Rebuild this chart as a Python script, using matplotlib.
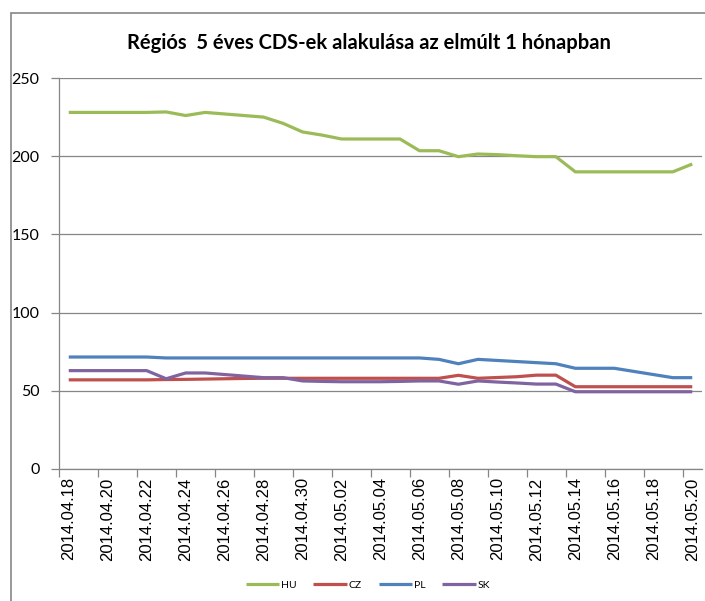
import matplotlib
matplotlib.use('Agg')
import matplotlib.pyplot as plt
from matplotlib.patches import Rectangle

# daily observations, 2014.04.18 .. 2014.05.20
dates = ['2014.04.18', '2014.04.19', '2014.04.20', '2014.04.21', '2014.04.22',
         '2014.04.23', '2014.04.24', '2014.04.25', '2014.04.26', '2014.04.27',
         '2014.04.28', '2014.04.29', '2014.04.30', '2014.05.01', '2014.05.02',
         '2014.05.03', '2014.05.04', '2014.05.05', '2014.05.06', '2014.05.07',
         '2014.05.08', '2014.05.09', '2014.05.10', '2014.05.11', '2014.05.12',
         '2014.05.13', '2014.05.14', '2014.05.15', '2014.05.16', '2014.05.17',
         '2014.05.18', '2014.05.19', '2014.05.20']

hu = [228, 228, 228, 228, 228, 228.3, 226, 228, 227, 226, 225, 221, 215.5,
      213.5, 211, 211, 211, 211, 203.5, 203.5, 199.7, 201.4, 201, 200.3, 199.7,
      199.7, 190, 190, 190, 190, 190, 190, 195]
cz = [57, 57, 57, 57, 57, 57.2, 57.3, 57.5, 57.7, 57.9, 58, 58, 58, 58, 58,
      58, 58, 58, 58, 58, 59.9, 58, 58.5, 59, 60, 60, 52.6, 52.6, 52.6, 52.6,
      52.6, 52.6, 52.6]
pl = [71.6, 71.6, 71.6, 71.6, 71.6, 71, 71, 71, 71, 71, 71, 71, 71, 71, 71,
      71, 71, 71, 71, 70.1, 67.3, 70.1, 69.4, 68.7, 68, 67.3, 64.4, 64.4, 64.4,
      62.4, 60.4, 58.4, 58.4]
sk = [62.9, 62.9, 62.9, 62.9, 62.9, 57.7, 61.4, 61.4, 60.4, 59.4, 58.4, 58.4,
      56.3, 56, 55.8, 55.8, 55.8, 56, 56.3, 56.3, 54.2, 56.3, 55.6, 55, 54.3,
      54.3, 49.4, 49.4, 49.4, 49.4, 49.4, 49.4, 49.4]

series = [('HU', hu, '#9BBB59'), ('CZ', cz, '#C0504D'),
          ('PL', pl, '#4F81BD'), ('SK', sk, '#8064A2')]

title = 'Régiós  5 éves CDS-ek alakulása az elmúlt 1 hónapban'
font = 'Lato'
grid_col = '#868686'

fig = plt.figure(figsize=(7.05, 6.01), dpi=100)
ax = fig.add_axes([59 / 705, 132 / 601, 643 / 705, 391 / 601])

x = list(range(len(dates)))
for name, vals, col in series:
    ax.plot(x, vals, color=col, linewidth=2.3, label=name, solid_capstyle='butt')

ax.set_xlim(-0.5, len(dates) - 0.5)
ax.set_ylim(0, 250)
ax.set_yticks(range(0, 251, 50))
ax.grid(axis='y', color=grid_col, linewidth=0.9)
ax.set_axisbelow(True)

# labels on every second day, tick marks between days
ax.set_xticks(x[::2])
ax.set_xticklabels(dates[::2], rotation=90, fontsize=12,
                   family='Liberation Sans')
ax.set_xticks([i - 0.5 for i in x[::2]], minor=True)
ax.tick_params(axis='x', which='major', length=0, pad=6)
ax.tick_params(axis='x', which='minor', length=6, color=grid_col, width=0.9)
ax.tick_params(axis='y', length=6, color=grid_col, width=0.9, pad=8,
               labelsize=11.5)
for lab in ax.get_yticklabels():
    lab.set_family(font)

for side in ['top', 'right']:
    ax.spines[side].set_visible(False)
for side in ['left', 'bottom']:
    ax.spines[side].set_color(grid_col)
    ax.spines[side].set_linewidth(0.9)

fig.text(369 / 705, 1 - 43 / 601, title, ha='center', va='center',
         fontsize=14.5, fontweight='bold', family=font)

fig.legend(loc='center', bbox_to_anchor=(368 / 705, 16 / 601), ncol=4,
           frameon=False, prop={'family': font, 'size': 7.5},
           handlelength=3.2, handletextpad=0.2, columnspacing=1.6)

# chart area border (open at right and bottom, like the cropped original)
fig.patches.append(Rectangle((11 / 705, -0.1), 1.0, 1 - 13 / 601 + 0.1,
                             transform=fig.transFigure, fill=False,
                             edgecolor=grid_col, linewidth=1.2))

fig.savefig('out.png', dpi=100)
